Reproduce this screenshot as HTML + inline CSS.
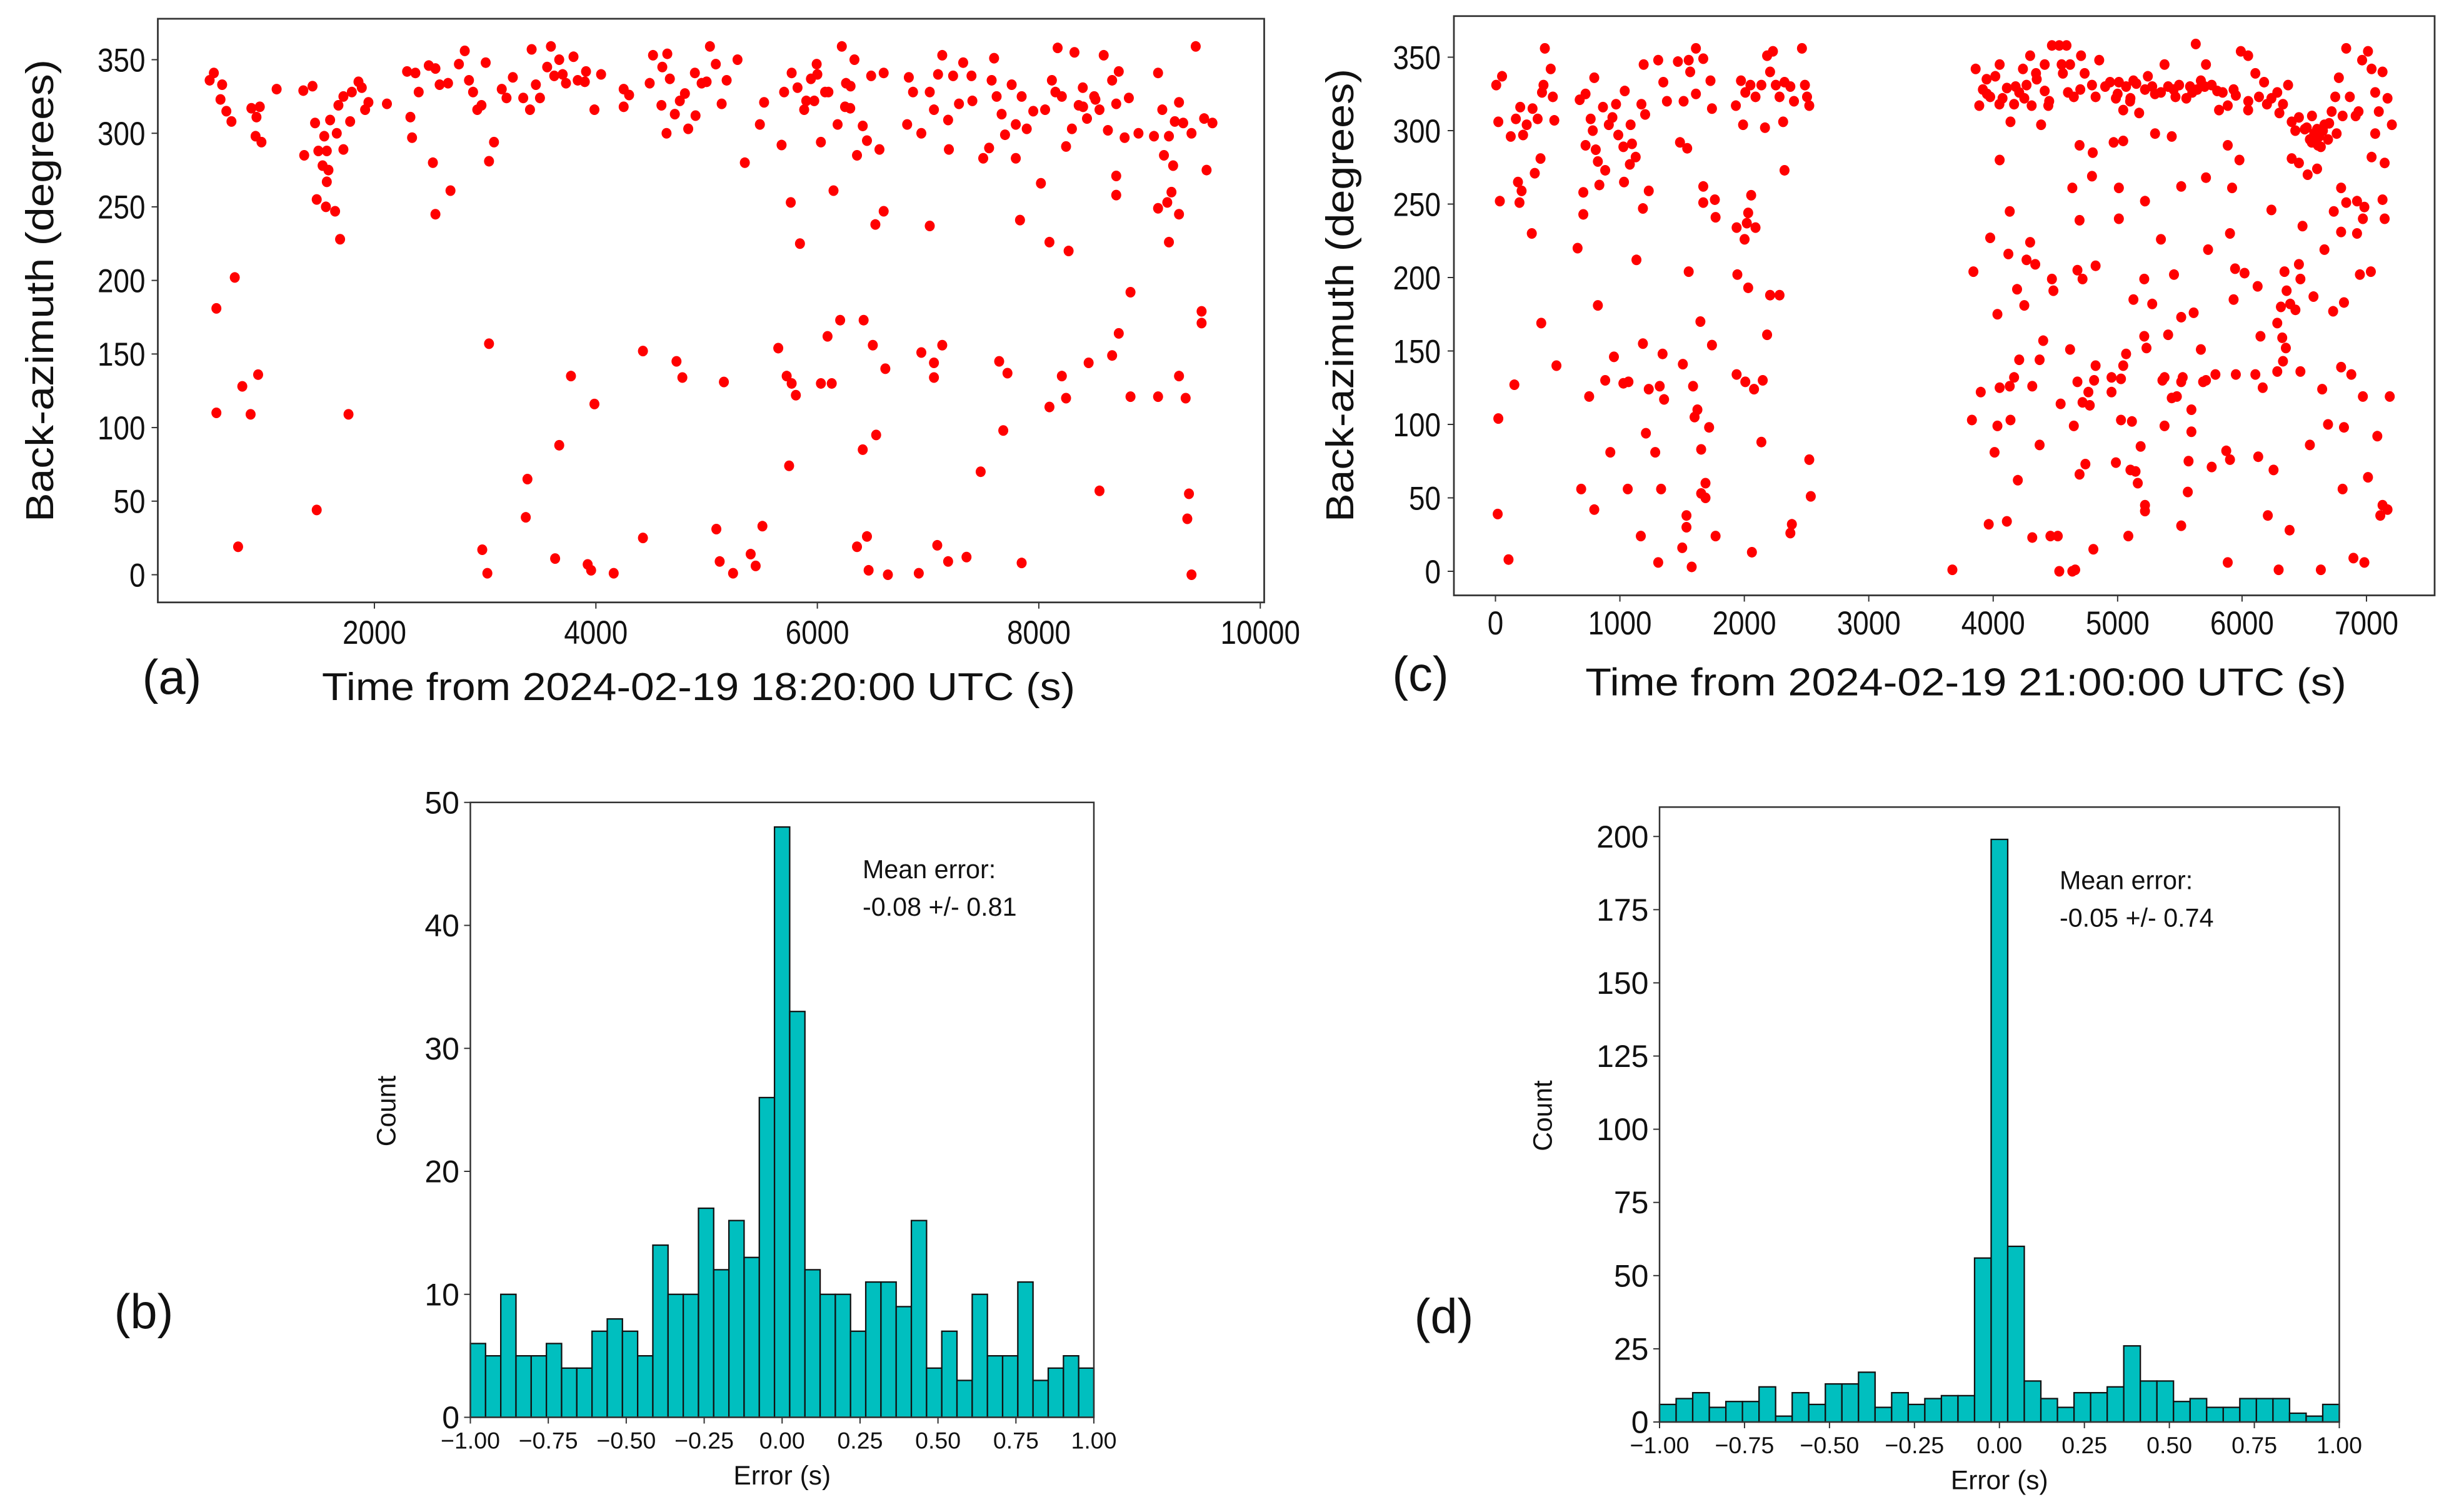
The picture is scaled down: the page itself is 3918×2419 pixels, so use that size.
<!DOCTYPE html>
<html><head><meta charset="utf-8">
<style>
html,body{margin:0;padding:0;background:#fff;}
svg{display:block;}
text{font-family:"Liberation Sans",sans-serif;fill:#111;}
</style></head>
<body>
<svg id="fig" width="3918" height="2419" viewBox="0 0 1567.2 967.6" xmlns="http://www.w3.org/2000/svg">
<rect x="0" y="0" width="1567.2" height="967.6" fill="#fff"/>
</svg>
<script>
// ---------- DATA ----------
// Panel (a): time (s) and back-azimuth (deg)
const aTime=[512,550,625,610,663,709,573,739,573,807,882,950,769,889,965,935,927,980,1117,1366,1358,1441,1464,1494,1570,1547,1532,1585,1570,1479,1562,1645,1690,1600,1660,1675,1720,1720,1781,1796,1856,1886,1916,1946,2113,1479,1766,2295,2325,2340,2370,2400,2491,2551,2528,2551,2589,2687,2665,2763,2816,2854,2891,2929,2967,3005,3035,3080,3035,2974,3020,3193,3344,3420,3405,3458,3495,3594,3624,3669,3730,3798,3836,3911,3987,4047,3382,3367,3632,3669,3775,3987,3926,3957,4161,4251,4251,4425,4425,4486,4516,4592,4645,4668,4638,4713,4758,4804,4834,4728,4781,4894,4955,5030,5083,5136,5181,5279,5088,5118,5156,5239,5345,5398,5443,5504,5481,5519,5647,5723,5768,5760,5806,5745,5677,5843,5700,5768,5821,5881,5942,5994,5972,6032,6070,6146,6032,6130,6092,6183,6221,6206,6259,6297,6335,6358,6410,6448,6486,6561,6599,6524,6599,6418,6501,6614,6410,6531,6358,6448,6463,6637,6826,6864,6811,6939,7015,7053,7128,7090,7181,7226,7188,7317,7392,7279,7015,6939,7053,7128,7053,6916,7083,7181,7347,7475,7498,7551,7596,7574,7619,7664,7695,7755,7792,7845,7891,7792,7830,7642,7717,7679,7845,8019,8057,8118,8170,8208,8246,8299,8322,8360,8397,8435,8511,8548,8586,8624,8662,8722,8699,8775,8813,8096,8269,8699,8699,8096,8246,8208,8450,8662,8722,8828,8828,8548,9040,9077,9115,9130,9175,9228,9266,9304,9379,9417,9493,9568,9515,9160,9198,9213,9077,9175,9266,9077,9266,9326,9470,9470,9356,9341,9379,
3150,3250,3560,3700,3900,4300,4600,4900,5000,5900,6000,6100,6250,6300,8150,8400,8500,8900,7400,7950];
const aAz=[336,341,333,323,315,308,181,202,110,128,109,136,19,317,318,311,298,294,330,285,329,332,307,288,288,298,278,275,267,255,250,247,228,309,300,319,325,289,308,328,335,331,316,321,320,44,109,342,311,297,341,328,346,344,280,245,333,261,334,347,356,336,328,316,319,348,281,294,157,17,1,324,324,357,316,333,324,359,339,350,334,352,336,342,316,340,65,39,11,88,135,116,7,3,1,330,318,25,152,334,353,319,354,337,300,313,322,327,303,145,134,341,334,359,347,320,336,350,31,9,131,1,280,14,6,33,306,321,154,135,130,253,122,74,292,225,328,341,331,316,337,347,322,294,328,261,130,130,162,306,359,173,334,317,350,285,305,295,339,289,341,238,247,173,156,140,85,95,19,26,3,0,338,328,306,300,328,316,353,340,309,339,289,348,339,320,237,151,144,156,134,1,20,9,12,70,283,290,351,336,325,313,299,333,306,325,303,283,241,145,137,98,8,266,316,336,358,325,291,303,355,319,331,310,323,316,353,302,336,342,320,297,324,226,220,271,258,114,120,135,144,149,164,192,121,57,298,341,316,285,298,308,321,307,300,359,310,307,275,253,260,278,249,226,245,121,135,120,179,171,55,38,0,
330,338,345,340,335,326,345,312,335,322,340,328,318,332,328,318,325,300,322,315];
// Panel (c)
const cTime=[6,23,53,35,23,18,105,123,164,199,222,251,298,339,374,397,362,316,444,461,473,386,181,210,193,292,152,368,490,677,724,765,794,782,724,806,823,882,706,706,660,835,864,911,940,969,987,1028,1039,1086,1097,1080,1127,1033,1173,1203,1191,1232,1185,1133,753,823,882,952,1028,1069,1185,1232,1320,1355,1343,689,794,923,1063,1209,1284,1331,1168,1308,1308,1349,1378,1466,1483,1512,1541,1553,1565,1611,1611,1670,1728,1740,1670,1670,1763,1769,1553,1647,1740,1506,1588,1623,1600,1717,1653,1688,1653,1688,1535,1535,1501,1577,1769,1932,1973,2008,2049,2090,2137,2183,2207,2230,2253,2283,2323,2370,2399,2463,2487,2522,2504,1990,2166,2312,2323,1938,2002,2020,2031,2055,2090,1944,2031,2207,2283,2183,1938,2008,2078,2148,2137,2061,2370,2382,2522,2534,3672,3841,3829,3859,3888,3917,3947,3976,4017,4052,4075,4110,4139,4168,4209,4239,4268,4297,4309,4344,4385,4414,4443,4414,4472,4531,4589,4618,4560,4601,4648,4706,4735,4794,4823,4852,4694,4800,4794,4636,4694,4677,4718,4823,4472,4484,3976,4122,4133,4034,4192,4250,4268,4338,4297,4052,4209,4373,4402,4618,3900,4052,4133,4168,4314,4677,4718,4765,4811,4823,4776,4542,4034,4139,4648,4373,4011,4198,4694,4741,3964,4110,4314,4460,4519,4531,4636,4659,4805,4939,4986,5010,5045,5068,5103,5127,5173,5220,5243,5278,5301,5348,5377,5406,5435,5465,5494,5552,5582,5640,5628,5669,5710,5756,5815,5844,5885,5932,5990,6049,6049,6107,6136,6177,6236,6283,6329,6370,6399,6428,6457,6504,6545,6562,6603,6633,6662,6691,6720,6749,6778,6808,6837,6866,6913,6936,6965,7012,7041,7070,7129,7169,7204,7099,7070,7041,7146,6399,6457,6603,6527,4968,5045,5010,5010,5220,5348,5511,5710,5885,5920,5979,5903,5727,6236,6486,6662,6796,6837,6737,6796,6924,6983,6971,6924,7129,7146,7035,6947,6819,6732,5214,5453,5127,5278,5511,5611,5932,5944,6020,6125,6341,6457,6469,6358,6387,6312,6283,6429,6574,6148,6323,6352,5214,5406,5232,5669,5068,5045,4951,5027,4951,5360,5377,5511,5523,5687,5710,5786,5950,6107,6166,6329,6283,6469,6644,6796,6878,5435,5476,5593,5377,5593,5027,5115,5185,4986,5103,5144,5162,5220,5220,5086,5570,5564,5511,5756,5873,5903,5885,6130,6207,6253,6382,6294,6545,6633,6691,6819,6808,6971,7087,7012,7129,7169,7111,7187,6895,6983,
3950,4050,4180,4250,4350,4450,4550,4700,4900,5000,5100,5150,5300,5450,5600,5700,5800,5950,6050,6200,6300,6520,6580,6620,6650,6700,6760,6560,6610];
const cAz=[331,306,337,252,104,39,8,296,308,316,297,304,315,308,326,356,281,271,342,323,307,331,265,259,251,230,127,169,140,321,325,308,336,300,290,287,279,273,258,243,220,263,316,304,309,318,297,289,327,304,291,277,282,265,318,311,345,259,247,212,119,181,130,146,128,129,155,124,126,117,148,56,42,81,56,94,81,56,24,6,348,333,320,347,292,320,288,348,340,356,325,349,334,315,262,251,253,241,204,170,154,141,126,110,105,98,83,60,53,50,38,30,16,3,24,317,334,326,331,323,331,351,340,354,331,323,333,330,320,356,331,317,323,304,302,306,273,234,226,237,244,256,234,202,193,188,188,161,134,129,124,130,88,13,26,32,76,51,1,204,103,342,317,328,335,323,337,345,322,329,306,318,326,342,331,351,317,339,304,327,317,345,358,358,358,345,339,326,323,351,339,331,323,348,290,285,269,261,239,205,199,208,199,191,227,216,245,175,192,181,212,209,224,280,144,144,157,151,122,125,126,132,126,129,115,122,130,140,113,114,99,103,99,86,81,62,66,73,32,34,23,24,24,0,0,1,15,333,322,333,314,330,322,334,312,328,337,330,298,326,345,330,296,323,331,322,330,328,359,334,345,331,314,326,317,328,354,351,314,339,323,333,322,326,318,331,306,300,309,301,294,310,301,289,304,294,313,323,336,310,356,323,310,313,348,354,342,326,340,322,304,313,298,282,278,281,278,274,270,292,293,261,240,252,226,262,268,290,261,280,230,219,246,235,219,261,251,245,231,252,248,240,230,253,240,204,202,183,177,199,202,185,182,173,176,185,206,203,194,204,209,199,191,182,180,169,178,187,160,159,152,160,161,152,151,148,140,132,131,122,130,132,129,132,129,130,134,134,134,125,143,136,136,124,139,134,118,119,110,99,95,103,102,85,74,69,68,60,45,41,24,75,54,31,71,82,76,6,78,38,69,28,1,86,1,100,98,56,119,92,64,45,42,38,119,9,6,
325,318,330,322,335,320,345,328,330,325,320,332,325,328,326,330,327,324,320,318,312,302,298,296,300,305,298,292,290];
// Panel (b) histogram counts (41 bins on [-1,1])
const bCounts=[6,5,10,5,5,6,4,4,7,8,7,5,14,10,10,17,12,16,13,26,48,33,12,10,10,7,11,11,9,16,4,7,3,10,5,5,11,3,4,5,4];
// Panel (d) histogram counts
const dCounts=[6,8,10,5,7,7,12,2,10,6,13,13,17,5,10,6,8,9,9,56,199,60,14,8,5,10,10,12,26,14,14,7,8,5,5,8,8,8,3,2,6];
const aXTicks=[2000,4000,6000,8000,10000];
const aYTicks=[0,50,100,150,200,250,300,350];
const cXTicks=[0,1000,2000,3000,4000,5000,6000,7000];
const cYTicks=[0,50,100,150,200,250,300,350];
const bYTicks=[0,10,20,30,40,50];
const dYTicks=[0,25,50,75,100,125,150,175,200];
const histXTicks=[-1,-0.75,-0.5,-0.25,0,0.25,0.5,0.75,1];

// ---------- DRAW ----------
const NS='http://www.w3.org/2000/svg';
const svg=document.getElementById('fig');
function mk(tag,attrs,parent){const e=document.createElementNS(NS,tag);for(const k in attrs)e.setAttribute(k,attrs[k]);(parent||svg).appendChild(e);return e;}
function txt(s,attrs,parent){const e=mk('text',attrs,parent);e.textContent=s;return e;}
function lin(d0,d1,r0,r1){return v=>r0+(v-d0)*(r1-r0)/(d1-d0);}
function fmtH(v){let s=v.toFixed(2);return s.replace('-','\u2212');}

function scatterPanel(o){
  const g=mk('g',{});
  
  
  const X=lin(o.xd[0],o.xd[1],o.xr[0],o.xr[1]);
  const Y=lin(0,350,o.y0,o.y350);
  const pts=mk('g',{},g);
  
  
  for(let i=0;i<o.t.length;i++){
    const c=mk('ellipse',{cx:X(o.t[i]).toFixed(2),cy:Y(o.az[i]).toFixed(2),rx:3.2,ry:3.4,fill:'#ff0000'},pts);
    
    
  }
  const box=mk('rect',{x:o.box[0],y:o.box[1],width:o.box[2]-o.box[0],height:o.box[3]-o.box[1],fill:'none',stroke:'#333',"stroke-width":1.1},g);
  
  
  o.yt.forEach(v=>{
    const y=Y(v);
    mk('line',{x1:o.box[0]-4,x2:o.box[0],y1:y,y2:y,stroke:'#333','stroke-width':0.8},g);
    const t=txt(String(v),{x:o.ylabX,y:y+7.5,'text-anchor':'end','font-size':21,textLength:String(v).length*10.2,lengthAdjust:'spacingAndGlyphs'},g);
    
    
  });
  o.xt.forEach(v=>{
    const x=X(v);
    mk('line',{x1:x,x2:x,y1:o.box[3],y2:o.box[3]+4,stroke:'#333','stroke-width':0.8},g);
    const t=txt(String(v),{x:x,y:o.xlabY,'text-anchor':'middle','font-size':21,textLength:String(v).length*10.2,lengthAdjust:'spacingAndGlyphs'},g);
    
    
  });
  const yt=txt('Back-azimuth (degrees)',{x:0,y:0,'text-anchor':'middle','font-size':25,transform:`translate(${o.ytitle[0]},${o.ytitle[1]}) rotate(-90)`,textLength:o.ytitle[2],lengthAdjust:'spacingAndGlyphs'},g);
  
  
  const xt=txt(o.xtitle,{x:o.xtpos[0],y:o.xtpos[1],'text-anchor':'middle','font-size':25,textLength:o.xtpos[2],lengthAdjust:'spacingAndGlyphs'},g);
  
  
  const pl=txt(o.label,{x:o.lpos[0],y:o.lpos[1],'text-anchor':'middle','font-size':31},g);
  
  
}

scatterPanel({name:'panel-a-scatter',t:aTime,az:aAz,xd:[2000,10000],xr:[239.6,806.5],y0:367.8,y350:38.2,
  box:[101,12,809,385.5],yt:aYTicks,xt:aXTicks,ylabX:93,xlabY:412,
  ytitle:[34,186,296],xtitle:'Time from 2024-02-19 18:20:00 UTC (s)',xtpos:[447,448,482],label:'(a)',lpos:[110,444]});
scatterPanel({name:'panel-c-scatter',t:cTime,az:cAz,xd:[0,7000],xr:[957,1514.4],y0:365.6,y350:36.6,
  box:[930.4,10.3,1558,381],yt:cYTicks,xt:cXTicks,ylabX:922,xlabY:406,
  ytitle:[866,189,290],xtitle:'Time from 2024-02-19  21:00:00 UTC (s)',xtpos:[1258,445,487],label:'(c)',lpos:[909,442]});

function histPanel(o){
  const g=mk('g',{});
  
  
  const X=lin(-1,1,o.box[0],o.box[2]);
  const Y=lin(0,o.ymax,o.box[3],o.ytop);
  const n=o.counts.length,w=2/n;
  const bars=mk('g',{},g);
  
  
  o.counts.forEach((c,i)=>{
    const x0=X(-1+i*w),x1=X(-1+(i+1)*w),y=Y(c);
    const r=mk('rect',{x:x0.toFixed(2),y:y.toFixed(2),width:(x1-x0).toFixed(2),height:(o.box[3]-y).toFixed(2),fill:'#00bfbf',stroke:'#111','stroke-width':0.9},bars);
    
    
  });
  const box=mk('rect',{x:o.box[0],y:o.box[1],width:o.box[2]-o.box[0],height:o.box[3]-o.box[1],fill:'none',stroke:'#333','stroke-width':1},g);
  
  
  o.yt.forEach(v=>{
    const y=Y(v);
    mk('line',{x1:o.box[0]-4,x2:o.box[0],y1:y,y2:y,stroke:'#333','stroke-width':0.8},g);
    const t=txt(String(v),{x:o.box[0]-7,y:y+7,'text-anchor':'end','font-size':20},g);
    
    
  });
  histXTicks.forEach(v=>{
    const x=X(v);
    mk('line',{x1:x,x2:x,y1:o.box[3],y2:o.box[3]+4,stroke:'#333','stroke-width':0.8},g);
    const t=txt(fmtH(v),{x:x,y:o.box[3]+20,'text-anchor':'middle','font-size':15},g);
    
    
  });
  const xt=txt('Error (s)',{x:(o.box[0]+o.box[2])/2,y:o.box[3]+43,'text-anchor':'middle','font-size':17},g);
  
  
  const yt=txt('Count',{x:0,y:0,'text-anchor':'middle','font-size':17,transform:`translate(${o.cnt[0]},${o.cnt[1]}) rotate(-90)`},g);
  
  
  const m1=txt('Mean error:',{x:o.mean[0],y:o.mean[1],'font-size':16.5},g);
  
  
  const m2=txt(o.meanTxt,{x:o.mean[0],y:o.mean[1]+24,'font-size':16.5},g);
  
  
  const pl=txt(o.label,{x:o.lpos[0],y:o.lpos[1],'text-anchor':'middle','font-size':31},g);
  
  
}
histPanel({name:'panel-b-histogram',counts:bCounts,box:[301,513.5,700,907],ytop:513.5,ymax:50,yt:bYTicks,
  cnt:[253,711],mean:[552,562],meanTxt:'-0.08 +/- 0.81',label:'(b)',lpos:[92,850]});
histPanel({name:'panel-d-histogram',counts:dCounts,box:[1062,516.5,1497,910],ytop:535.3,ymax:200,yt:dYTicks,
  cnt:[993,714],mean:[1318,569],meanTxt:'-0.05 +/- 0.74',label:'(d)',lpos:[924,853]});
</script>
</body></html>
